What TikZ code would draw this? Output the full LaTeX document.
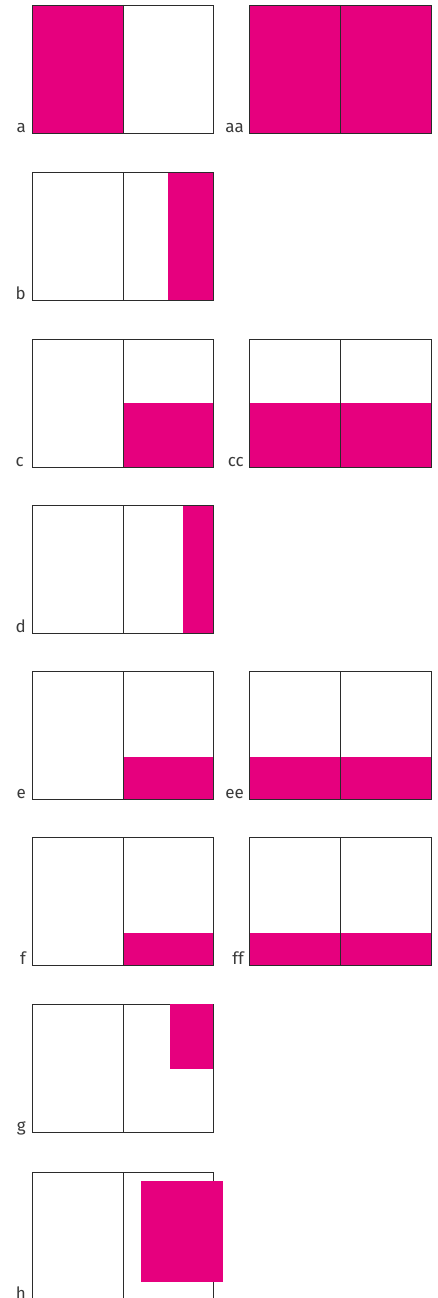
\documentclass[tikz,border=0pt]{standalone}
\usepackage{fontspec}
\setmainfont{Fira Sans}
\usetikzlibrary{positioning}
\definecolor{ink}      {HTML}{E6007E}
\definecolor{framing}  {HTML}{2B2B2B}
\definecolor{tagtext}  {HTML}{3A3A3A}

\begin{document}
\begin{tikzpicture}[x=1pt, y=-1pt, font=\fontsize{17}{19}\selectfont,
    panel/.style={draw=framing, line width=0.8pt},
    part/.style={fill=ink, draw=none},
    tag/.style={anchor=base east, text=tagtext, inner sep=0pt}]
  \useasboundingbox (0,0) rectangle (438,1298);
  \clip (0,0) rectangle (438,1298);
  % a / aa
  \path[part] (32,5) rectangle (123,133);
  \draw[panel] (32,5) rectangle (213,133) (123,5) -- (123,133);
  \node[tag] (tagA) at (26,132) {a};
  \path[part] (249,5) rectangle (431,133);
  \draw[panel] (249,5) rectangle (431,133) (340,5) -- (340,133);
  \node[tag] (tagAA) at (244,132) {aa};
  % b
  \path[part] (168,172) rectangle (213,300);
  \draw[panel] (32,172) rectangle (213,300) (123,172) -- (123,300);
  \node[tag] (tagB) at (26,299) {b};
  % c / cc
  \path[part] (123,403) rectangle (213,467);
  \draw[panel] (32,339) rectangle (213,467) (123,339) -- (123,467);
  \node[tag] (tagC) at (24,466) {c};
  \path[part] (249,403) rectangle (431,467);
  \draw[panel] (249,339) rectangle (431,467) (340,339) -- (340,467);
  \node[tag] (tagCC) at (244,466) {cc};
  % d
  \path[part] (183,505) rectangle (213,633);
  \draw[panel] (32,505) rectangle (213,633) (123,505) -- (123,633);
  \node[tag] (tagD) at (26,632) {d};
  % e / ee
  \path[part] (123,757) rectangle (213,799);
  \draw[panel] (32,671) rectangle (213,799) (123,671) -- (123,799);
  \node[tag] (tagE) at (26,798) {e};
  \path[part] (249,757) rectangle (431,799);
  \draw[panel] (249,671) rectangle (431,799) (340,671) -- (340,799);
  \node[tag] (tagEE) at (244,798) {ee};
  % f / ff
  \path[part] (123,933) rectangle (213,965);
  \draw[panel] (32,837) rectangle (213,965) (123,837) -- (123,965);
  \node[tag] (tagF) at (26,964) {f};
  \path[part] (249,933) rectangle (431,965);
  \draw[panel] (249,837) rectangle (431,965) (340,837) -- (340,965);
  \node[tag] (tagFF) at (244,964) {ff};
  % g
  \draw[panel] (32,1004) rectangle (213,1132) (123,1004) -- (123,1132);
  \path[part] (170,1004) rectangle (213,1069);
  \node[tag] (tagG) at (26,1131) {g};
  % h
  \draw[panel] (32,1172) rectangle (213,1300) (123,1172) -- (123,1300);
  \path[part] (141,1181) rectangle (223,1282);
  \node[tag] (tagH) at (26,1299) {h};
\end{tikzpicture}
\end{document}
